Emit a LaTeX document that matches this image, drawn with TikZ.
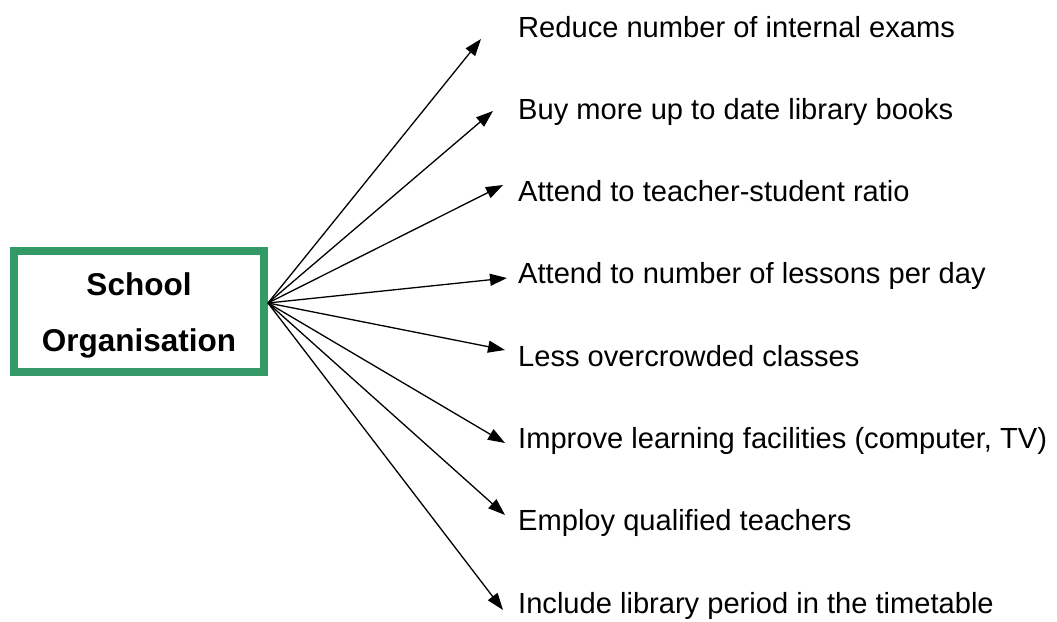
\documentclass[tikz,border=0pt]{standalone}
\usepackage{fontspec}
\setmainfont{Liberation Sans}
\usetikzlibrary{arrows.meta}
\definecolor{boxgreen}{RGB}{51,153,102}
\tikzset{
  orgbox/.style={draw=boxgreen, line width=8pt, minimum width=250pt, minimum height=121pt},
  orgtitle/.style={align=center, inner sep=0pt, font=\fontsize{31.5}{56}\selectfont\bfseries},
  idea/.style={anchor=base west, inner sep=0pt, font=\fontsize{29.1}{35}\selectfont},
  branch/.style={line width=1.3pt, -{Triangle[length=17pt,width=12pt]}}
}
\begin{document}
\begin{tikzpicture}[x=1pt,y=-1pt]
    \useasboundingbox (0,0) rectangle (1057,621);
    % centre box
    \node[orgbox] (org) at (139,311.5) {};
    \node[orgtitle] (title) at ([yshift=-4pt]org.center) {School\\Organisation};
    \coordinate (hub) at (268,303);
    % labels
    \node[idea] (l1) at (518,37) {Reduce number of internal exams};
    \node[idea] (l2) at (518,119.3) {Buy more up to date library books};
    \node[idea] (l3) at (518,201.6) {Attend to teacher-student ratio};
    \node[idea] (l4) at (518,283.9) {Attend to number of lessons per day};
    \node[idea] (l5) at (518,366.1) {Less overcrowded classes};
    \node[idea] (l6) at (518,448.4) {Improve learning facilities (computer, TV)};
    \node[idea] (l7) at (518,530.7) {Employ qualified teachers};
    \node[idea] (l8) at (518,613) {Include library period in the timetable};
    % arrow tips
    \coordinate (t1) at (481,39);
    \coordinate (t2) at (493,111);
    \coordinate (t3) at (503,185);
    \coordinate (t4) at (507,278);
    \coordinate (t5) at (505,350);
    \coordinate (t6) at (505,443);
    \coordinate (t7) at (505,515);
    \coordinate (t8) at (503,610);
    \draw[branch] (hub) -- (t1);
    \draw[branch] (hub) -- (t2);
    \draw[branch] (hub) -- (t3);
    \draw[branch] (hub) -- (t4);
    \draw[branch] (hub) -- (t5);
    \draw[branch] (hub) -- (t6);
    \draw[branch] (hub) -- (t7);
    \draw[branch] (hub) -- (t8);
\end{tikzpicture}
\end{document}
